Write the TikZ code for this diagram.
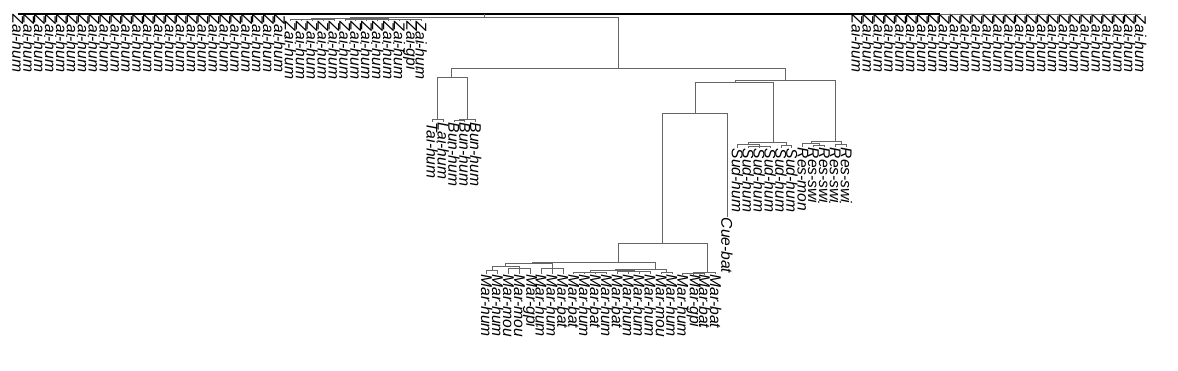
\documentclass[tikz,border=0pt]{standalone}
\usepackage{fontspec}
\setmainfont{Liberation Sans}
\usetikzlibrary{positioning}

\begin{document}
\begin{tikzpicture}[
  x=1pt, y=-1pt,
  leaf/.style={rotate=-90, anchor=west, inner sep=0.6pt,
    font=\fontsize{15.6}{15.6}\selectfont\itshape},
  branch/.style={draw=black!60, line width=0.9pt},
  trunk/.style={draw=black, line width=2.2pt}
]
\useasboundingbox (0,0) rectangle (1178,370);

% Blaetter: Zai links
\foreach \i in {0,...,24} {
  \coordinate (z\i) at ({18+10.9*\i},14);
  \node[leaf] (lz\i) at (z\i) {Zai-hum};
}
\foreach \i in {25,...,37} {
  \coordinate (z\i) at ({18+10.9*\i},21);
  \node[leaf] (lz\i) at (z\i) {Zai-\ifnum\i=36 gpi\else hum\fi};
}
% Blaetter: Zai rechts
\foreach \i in {77,...,103} {
  \coordinate (z\i) at ({18+10.9*\i},14);
  \node[leaf] (lz\i) at (z\i) {Zai-hum};
}
% Blaetter: Tai, Lai, Bun
\foreach \i/\t in {38/Tai-hum,39/Lai-hum,40/Bun-hum,41/Bun-hum,42/Bun-hum} {
  \coordinate (m\i) at ({18+10.9*\i},122);
  \node[leaf] (lm\i) at (m\i) {\t};
}
% Blaetter: Mar
\foreach \i/\t in {43/hum,44/hum,45/mou,46/mou,47/gpi,48/hum,49/hum,50/bat,
                   51/bat,52/hum,53/bat,54/hum,55/bat,56/hum,57/hum,58/hum,
                   59/mou,60/hum,61/hum,62/gpi,63/bat,64/bat} {
  \coordinate (m\i) at ({18+10.9*\i},274);
  \node[leaf] (lm\i) at (m\i) {Mar-\t};
}
% Cue-bat
\coordinate (m65) at (727,217);
\node[leaf] (lm65) at (m65) {Cue-bat};
% Blaetter: Sud, Res
\foreach \i in {66,...,71} {
  \coordinate (m\i) at ({18+10.9*\i},148);
  \node[leaf] (lm\i) at (m\i) {Sud-hum};
}
\foreach \i/\t in {72/mon,73/swi,74/swi,75/swi,76/swi} {
  \coordinate (m\i) at ({18+10.9*\i},147);
  \node[leaf] (lm\i) at (m\i) {Res-\t};
}

% Verzweigungen
\coordinate (zR)   at (940,14);
\coordinate (root) at (484,14);
\coordinate (B)    at (484,17.5);
\coordinate (Zsub) at (350,18);
\coordinate (Za)   at (311,19);
\coordinate (Zb)   at (388,19);
\coordinate (C)    at (618,68);
\coordinate (D)    at (451,77.7);
\coordinate (TL)   at (437.6,119);
\coordinate (BN)   at (467,119.5);
\coordinate (BN2)  at (459.4,120.5);
\coordinate (E)    at (785,80);
\coordinate (G)    at (735,82);
\coordinate (H)    at (695,113);
\coordinate (M)    at (662,243);
\coordinate (J)    at (618,262);
\coordinate (L)    at (532,263.5);
\coordinate (L1)   at (505.8,266);
\coordinate (L1a)  at (492.2,270);
\coordinate (L1b)  at (519.4,268.5);
\coordinate (L2)   at (552.1,268);
\coordinate (Mm)   at (655,269);
\coordinate (Mma)  at (615,270);
\coordinate (Mm1)  at (590,272);
\coordinate (Mm2)  at (634,271);
\coordinate (Mm3)  at (666.5,272.5);
\coordinate (K)    at (707,272);
\coordinate (K1)   at (693.8,273.5);
\coordinate (S)    at (773,142);
\coordinate (S1)   at (748,144.5);
\coordinate (S1b)  at (759.2,146);
\coordinate (S2)   at (786.5,145);
\coordinate (R)    at (835,141);
\coordinate (R1)   at (811,143.5);
\coordinate (R1b)  at (819,145);
\coordinate (R2)   at (841,144.5);

% Linien
\draw[trunk] (z0) -- (zR);
\draw[branch] (zR) -- (z103);
\draw[branch] (root) -- (B);
\foreach \p/\c in {B/Zsub, B/C, Zsub/Za, Zsub/Zb,
                   Za/z25, Za/z26, Za/z27, Za/z28, Za/z29,
                   Zb/z30, Zb/z31, Zb/z32, Zb/z33, Zb/z34, Zb/z35, Zb/z36, Zb/z37,
                   C/D, C/E, D/TL, D/BN, TL/m38, TL/m39, BN/BN2, BN/m42,
                   BN2/m40, BN2/m41,
                   E/G, E/R, G/H, G/S, H/M, H/m65,
                   M/J, M/K, J/L, J/Mm, L/L1, L/L2, L1/L1a, L1/L1b,
                   L1a/m43, L1a/m44, L1b/m45, L1b/m46, L1b/m47,
                   L2/m48, L2/m49, L2/m50,
                   Mm/Mma, Mm/Mm3, Mma/Mm1, Mma/Mm2,
                   Mm1/m51, Mm1/m52, Mm1/m53, Mm1/m54,
                   Mm2/m55, Mm2/m56, Mm2/m57, Mm2/m58, Mm3/m59, Mm3/m60,
                   K/K1, K/m64, K1/m61, K1/m62, K1/m63,
                   S/S1, S/S2, S1/m66, S1/S1b, S1b/m67, S1b/m68, S1b/m69,
                   S2/m70, S2/m71,
                   R/R1, R/R2, R1/m72, R1/R1b, R1b/m73, R1b/m74,
                   R2/m75, R2/m76}
  \draw[branch] (\p) -| (\c);
\end{tikzpicture}
\end{document}
